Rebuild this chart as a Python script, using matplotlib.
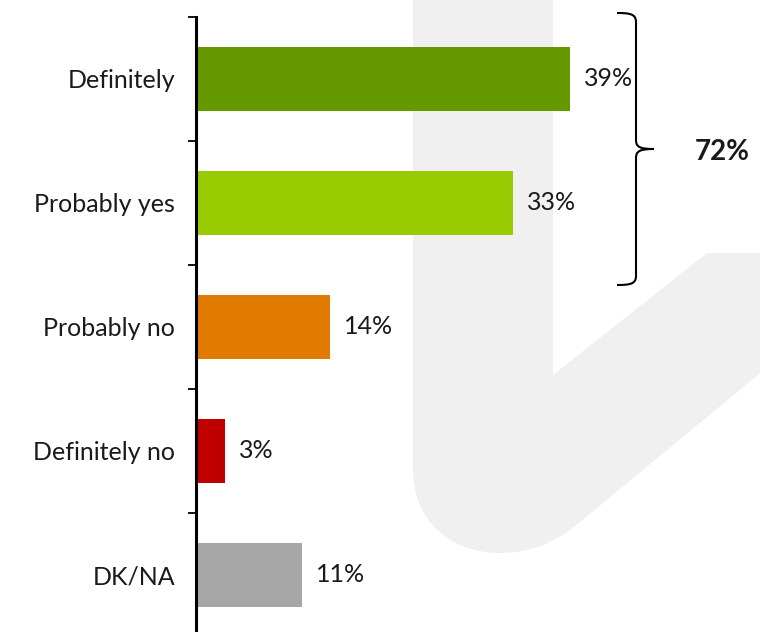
import numpy as np
import matplotlib.pyplot as plt
from matplotlib.path import Path
from matplotlib.patches import PathPatch

# datos de la encuesta
categorias = ['Definitely', 'Probably yes', 'Probably no', 'Definitely no', 'DK/NA']
valores = [39, 33, 14, 3, 11]
colores = ['#669900', '#99cc00', '#e07b00', '#c00000', '#a6a6a6']
total_si = valores[0] + valores[1]   # 72%

plt.rcParams['font.family'] = ['Lato', 'DejaVu Sans']
W, H = 760, 632
fig = plt.figure(figsize=(W / 100, H / 100), dpi=100)

# fondo con la marca de agua (coordenadas en pixeles)
fondo = fig.add_axes([0, 0, 1, 1], zorder=0)
fondo.set_xlim(0, W)
fondo.set_ylim(H, 0)
fondo.axis('off')
verts = [(413, -5), (553, -5), (553, 375), (707, 253), (770, 253), (770, 365),
         (580, 522), (555, 543), (530, 553), (500, 553),
         (450, 553), (413, 520), (413, 470), (413, -5)]
codes = [Path.MOVETO, Path.LINETO, Path.LINETO, Path.LINETO, Path.LINETO, Path.LINETO,
         Path.LINETO, Path.CURVE4, Path.CURVE4, Path.CURVE4,
         Path.CURVE4, Path.CURVE4, Path.CURVE4, Path.CLOSEPOLY]
fondo.add_patch(PathPatch(Path(verts, codes), facecolor='#f0f0f0', edgecolor='none'))

# llave que agrupa los dos primeros
llave = [(617, 13), (630, 13), (636, 14), (636, 22), (636, 140),
         (636, 147), (640, 149), (654, 149),
         (640, 149), (636, 151), (636, 158), (636, 276),
         (636, 284), (630, 285), (617, 285)]
cod_llave = [Path.MOVETO, Path.CURVE4, Path.CURVE4, Path.CURVE4, Path.LINETO,
             Path.CURVE4, Path.CURVE4, Path.CURVE4,
             Path.CURVE4, Path.CURVE4, Path.CURVE4, Path.LINETO,
             Path.CURVE4, Path.CURVE4, Path.CURVE4]
fondo.add_patch(PathPatch(Path(llave, cod_llave), facecolor='none', edgecolor='black', lw=1.5))
fondo.text(695, 152, f'{total_si}%', fontsize=20, fontweight='bold', va='center', ha='left',
           color='#1a1a1a')

# grafico de barras
ax = fig.add_axes([196 / W, (H - 637) / H, (W - 196) / W, 620 / H], zorder=1)
ax.patch.set_alpha(0)
y = np.arange(len(categorias))
ax.barh(y, valores, height=0.51, color=colores)
ax.set_xlim(0, (W - 196) / 9.6)
ax.set_ylim(len(categorias) - 0.5, -0.5)

for i, v in enumerate(valores):
    ax.annotate(f'{v}%', (v, i), xytext=(10, 0), textcoords='offset points',
                va='center', ha='left', fontsize=18, color='#1a1a1a')

ax.set_yticks(y)
ax.set_yticklabels(categorias, fontsize=18, color='#1a1a1a')
ax.tick_params(axis='y', which='major', length=0, pad=15)
ax.set_yticks(np.arange(-0.5, len(categorias), 1), minor=True)
ax.tick_params(axis='y', which='minor', length=6, width=1.3, direction='out')
ax.set_xticks([])
for s in ['top', 'right', 'bottom']:
    ax.spines[s].set_visible(False)
ax.spines['left'].set_linewidth(2.2)

fig.savefig('out.png', dpi=100)
